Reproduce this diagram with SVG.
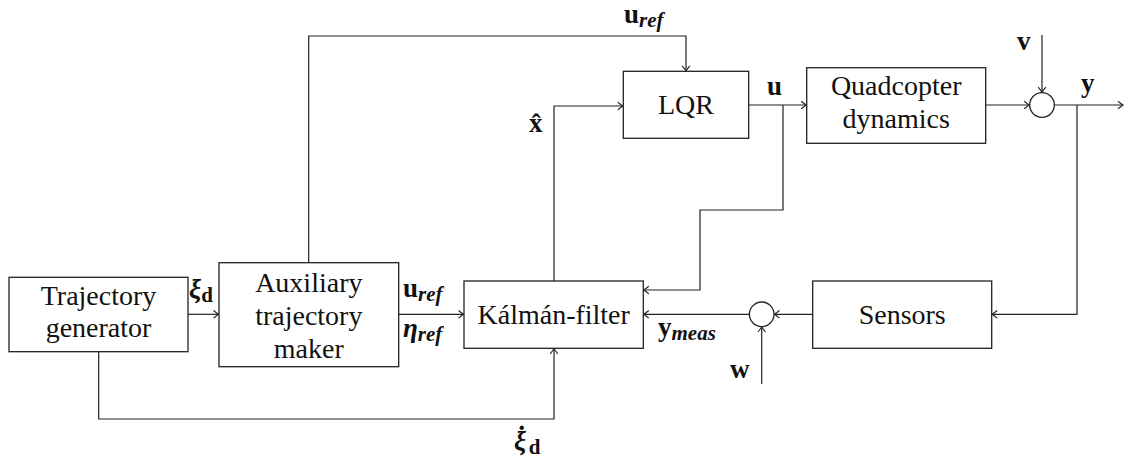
<svg xmlns="http://www.w3.org/2000/svg" width="1126" height="467" viewBox="0 0 1126 467">
<style>
.box{fill:#fff;stroke:#222;stroke-width:1.3}
.sum{fill:#fff;stroke:#222;stroke-width:1.3}
.c{fill:none;stroke:#222;stroke-width:1.2;marker-end:url(#arr)}
.t{font-family:"Liberation Serif","DejaVu Serif",serif;font-size:28px;fill:#111;text-anchor:middle}
.m{font-family:"Liberation Serif","DejaVu Serif",serif;font-size:27px;font-weight:bold;fill:#111}
.s{font-size:21px}
.i{font-style:italic}
</style>
<defs>
<marker id="arr" markerWidth="10" markerHeight="10" refX="0" refY="0" viewBox="-6 -5 7 10" orient="auto" markerUnits="userSpaceOnUse">
<path d="M-5,-3.8 Q-1.5,-1 0,0 Q-1.5,1 -5,3.8" fill="none" stroke="#222" stroke-width="1.1"/>
</marker>
</defs>
<g id="connectors">
<path class="c" d="M188,314.3 H218.5"/>
<path class="c" d="M398.7,314.3 H463.5"/>
<path class="c" d="M308.7,262.7 V36 H686 V70.8"/>
<path class="c" d="M554,281 V106 H622.8"/>
<path class="c" d="M748.7,105 H806.2"/>
<path class="c" d="M985.7,105 H1029.2"/>
<path class="c" d="M1042,35 V92.2"/>
<path class="c" d="M1054.3,105 H1123"/>
<path class="c" d="M1077,105 V314.3 H992.2"/>
<path class="c" d="M812.7,314.3 H774.5"/>
<path class="c" d="M761.7,384 V327"/>
<path class="c" d="M749.4,314.3 H643.8"/>
<path class="c" d="M783,105 V210 H700 V290 H643.8"/>
<path class="c" d="M98.7,351.7 V419 H554 V348.8"/>
</g>
<g id="trajectory-generator">
<rect class="box" x="9" y="277.3" width="179" height="74.4"/>
<text class="t" x="98.5" y="305">Trajectory</text>
<text class="t" x="98.5" y="337">generator</text>
</g>
<g id="auxiliary">
<rect class="box" x="219" y="262.7" width="179.7" height="104"/>
<text class="t" x="308.8" y="292">Auxiliary</text>
<text class="t" x="308.8" y="325">trajectory</text>
<text class="t" x="308.8" y="358">maker</text>
</g>
<g id="kalman">
<rect class="box" x="464" y="281" width="179.3" height="67.3"/>
<text class="t" x="553.7" y="324">Kálmán-filter</text>
</g>
<g id="lqr">
<rect class="box" x="623.3" y="71.3" width="125.4" height="67"/>
<text class="t" x="686" y="114">LQR</text>
</g>
<g id="quadcopter">
<rect class="box" x="806.7" y="67.7" width="179" height="75.6"/>
<text class="t" x="896.2" y="95">Quadcopter</text>
<text class="t" x="896.2" y="128">dynamics</text>
</g>
<g id="sensors">
<rect class="box" x="812.7" y="281" width="179" height="67.3"/>
<text class="t" x="902.2" y="324">Sensors</text>
</g>
<g id="sum1">
<circle class="sum" cx="1042" cy="105" r="12.3"/>
</g>
<g id="sum2">
<circle class="sum" cx="761.7" cy="314.3" r="12.3"/>
</g>
<g id="labels">
<text class="m" x="624" y="23">u<tspan class="s i" dy="4">ref</tspan></text>
<text class="m" x="529" y="132">x̂</text>
<text class="m" x="767" y="95">u</text>
<text class="m" x="1017" y="50">v</text>
<text class="m" x="1081" y="92">y</text>
<text class="m" x="189" y="298"><tspan class="i">ξ</tspan><tspan class="s" dy="4">d</tspan></text>
<text class="m" x="403" y="297">u<tspan class="s i" dy="4">ref</tspan></text>
<text class="m" x="403" y="337"><tspan class="i">η</tspan><tspan class="s i" dy="4">ref</tspan></text>
<text class="m" x="658" y="336">y<tspan class="s i" dy="4">meas</tspan></text>
<text class="m" x="730" y="378">w</text>
<text class="m" x="514" y="450"><tspan class="i">ξ</tspan><tspan dx="-9" dy="-13">·</tspan><tspan class="s" dx="2.5" dy="17">d</tspan></text>
</g>
</svg>
